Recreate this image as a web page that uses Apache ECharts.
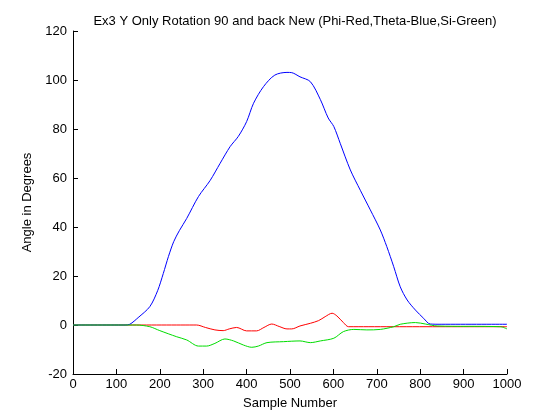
<!DOCTYPE html>
<html><head><meta charset="utf-8">
<script src="https://cdn.jsdelivr.net/npm/echarts@6/dist/echarts.min.js"></script>
<style>html,body{margin:0;padding:0;background:#fff}#c{width:560px;height:420px}</style>
</head><body><div id="c"></div>
<script>
const titleText = 'Ex3 Y Only Rotation 90 and back New (Phi-Red,Theta-Blue,Si-Green)';
const xName = 'Sample Number';
const yName = 'Angle in Degrees';

const thetaX = [0, 120, 131, 150, 177, 195, 208, 220, 232, 245, 262, 289, 316, 339, 362, 381, 400, 416, 439, 465, 493, 504, 523, 547, 570, 588, 601, 616, 639, 662, 685, 708, 723, 739, 754, 770, 789, 808, 823, 850, 1000];
const thetaY = [0, 0, 0.3, 3, 7.5, 14, 21, 28, 34, 38.5, 43.5, 52.4, 59, 66, 72.8, 77, 83, 90.5, 97.3, 102, 103.1, 103, 101.3, 99.3, 92, 84.5, 81, 74, 63.3, 55, 47, 38.8, 32, 23.8, 15.6, 10.2, 6.1, 2.7, 0.4, 0.3, 0.3];

const phiX = [0, 285, 305, 327, 346, 360, 377, 400, 423, 440, 458, 475, 493, 504, 523, 547, 566, 581, 597, 608, 623, 635, 1000];
const phiY = [0, 0, -1, -2, -2.3, -1.6, -1, -2.4, -2.4, -1, 0.4, -0.6, -1.6, -1.6, -0.4, 0.7, 1.8, 3.4, 4.8, 3.7, 1, -0.7, -0.7];

const siX = [0, 146, 177, 200, 239, 262, 289, 308, 327, 350, 370, 393, 412, 427, 447, 485, 523, 547, 570, 601, 623, 647, 677, 708, 739, 754, 789, 812, 839, 985, 1000];
const siY = [0, 0, -0.7, -2.3, -4.8, -6.1, -8.6, -8.6, -7.5, -5.7, -6.5, -8.2, -9.1, -8.6, -7.2, -6.8, -6.5, -7.2, -6.5, -5.4, -2.7, -1.8, -2, -1.8, -0.7, 0.3, 1, 0.4, -0.4, -0.7, -1.6];

const xTicks = [0, 100, 200, 300, 400, 500, 600, 700, 800, 900, 1000];
const yTicks = [-20, 0, 20, 40, 60, 80, 100, 120];

const zip = (xs, ys) => xs.map((x, i) => [x, ys[i]]);
const font = 'Liberation Sans, Arial, Helvetica, sans-serif';

const chart = echarts.init(document.getElementById('c'), null, {renderer: 'canvas'});
chart.setOption({
  animation: false,
  backgroundColor: '#ffffff',
  title: {
    text: titleText, left: 290, top: 10, textAlign: 'center',
    textStyle: {fontFamily: font, fontSize: 13, fontWeight: 'normal', color: '#000'}
  },
  grid: {left: 73, right: 53, top: 31, bottom: 46, containLabel: false},
  xAxis: {
    type: 'value', min: xTicks[0], max: xTicks[xTicks.length - 1], interval: 100,
    name: xName, nameLocation: 'middle', nameGap: 23,
    nameTextStyle: {fontFamily: font, fontSize: 13, color: '#000'},
    axisLine: {show: true, onZero: false, lineStyle: {color: '#000', width: 1}},
    axisTick: {show: true, inside: true, length: 5, lineStyle: {color: '#000'}},
    axisLabel: {fontFamily: font, fontSize: 13, color: '#000', margin: 4, formatter: v => String(v)},
    splitLine: {show: false}
  },
  yAxis: {
    type: 'value', min: yTicks[0], max: yTicks[yTicks.length - 1], interval: 20,
    name: yName, nameLocation: 'middle', nameGap: 33, nameRotate: 90,
    nameTextStyle: {fontFamily: font, fontSize: 13, color: '#000'},
    axisLine: {show: true, onZero: false, lineStyle: {color: '#000', width: 1}},
    axisTick: {show: true, inside: true, length: 5, lineStyle: {color: '#000'}},
    axisLabel: {fontFamily: font, fontSize: 13, color: '#000', margin: 6, formatter: v => String(v)},
    splitLine: {show: false}
  },
  series: [
    {name: 'Phi', type: 'line', data: zip(phiX, phiY), showSymbol: false, smooth: 0.3,
     lineStyle: {color: '#ff0000', width: 1}, itemStyle: {color: '#ff0000'}},
    {name: 'Theta', type: 'line', data: zip(thetaX, thetaY), showSymbol: false, smooth: 0.3,
     lineStyle: {color: '#0000ff', width: 1}, itemStyle: {color: '#0000ff'}},
    {name: 'Si', type: 'line', data: zip(siX, siY), showSymbol: false, smooth: 0.3,
     lineStyle: {color: '#00dd00', width: 1}, itemStyle: {color: '#00dd00'}}
  ]
});
</script></body></html>
